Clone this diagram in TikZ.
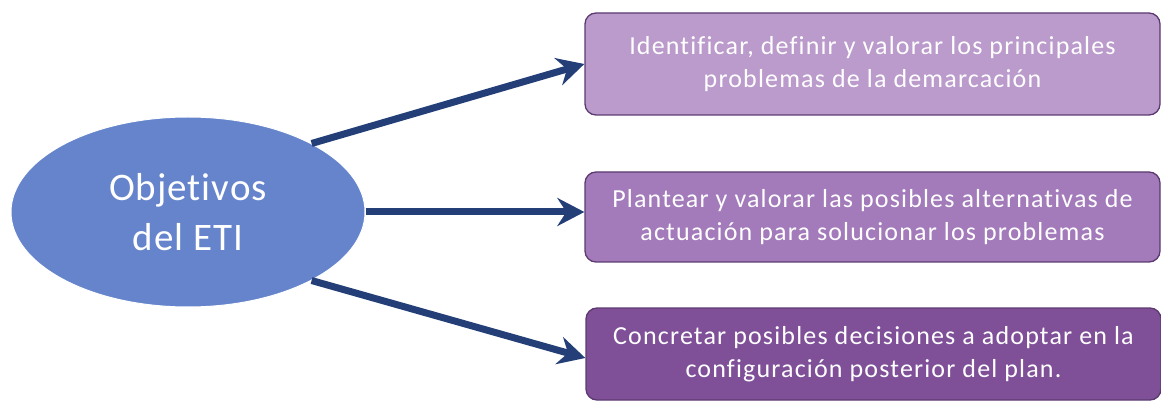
\documentclass[tikz,border=0pt]{standalone}
\usepackage{fontspec}
\setmainfont{Carlito}
\newfontfamily\boxfont[LetterSpace=4.5,Ligatures=CommonOff]{Carlito}
\newfontfamily\ellfont[LetterSpace=2.5,Ligatures=CommonOff]{Carlito}
\usetikzlibrary{arrows.meta,shapes.geometric}
\definecolor{ellblue}{HTML}{6584CC}
\definecolor{arrblue}{HTML}{243F78}
\definecolor{boxA}{HTML}{BB9ACC}
\definecolor{boxB}{HTML}{A37ABA}
\definecolor{boxC}{HTML}{7F4F98}
\definecolor{boxline}{HTML}{5C3A70}
\tikzset{
  objell/.style={ellipse, fill=ellblue, draw=white, line width=1pt, minimum width=354pt, minimum height=190pt, inner sep=0pt, text=white, align=center, font=\ellfont\fontsize{39}{50}\selectfont},
  goalbox/.style={rectangle, rounded corners=11pt, draw=boxline, line width=1.3pt, minimum width=575pt, inner sep=0pt, text=white, align=center, font=\boxfont\fontsize{26}{33}\selectfont},
  bigarrow/.style={draw=arrblue, line width=7pt, -{Stealth[length=27pt,width=28pt,inset=9pt]}}
}
\begin{document}
\begin{tikzpicture}[x=1pt,y=-1pt]
\useasboundingbox (0,0) rectangle (1161,403);
\node[objell] (obj) at (188,212) {Objetivos\\del ETI};
\node[goalbox, fill=boxA, minimum height=102pt] (b1) at (872.5,64) {Identificar, definir y valorar los principales\\problemas de la demarcación};
\node[goalbox, fill=boxB, minimum height=90pt] (b2) at (872.5,217) {Plantear y valorar las posibles alternativas de\\actuación para solucionar los problemas};
\node[goalbox, fill=boxC, minimum height=92pt] (b3) at (873.5,354) {Concretar posibles decisiones a adoptar en la\\configuración posterior del plan.};
\draw[bigarrow] (obj.29) -- (b1.west);
\draw[bigarrow] (obj.east) -- (b2.west |- obj.east);
\draw[bigarrow] (obj.-29) -- ([yshift=-4pt]b3.west);
\end{tikzpicture}
\end{document}
